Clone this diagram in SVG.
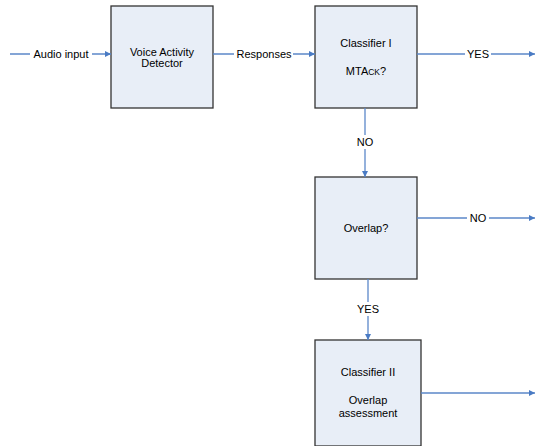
<svg xmlns="http://www.w3.org/2000/svg" width="535" height="446" viewBox="0 0 535 446">
<style>
.box{fill:#E8EEF7;stroke:#333333;stroke-width:1.3}
.t{font-family:"Liberation Sans",Arial,sans-serif;font-size:11px;fill:#000;text-anchor:middle}
.c{fill:none;stroke:#5B87C9;stroke-width:1.3}
.lb{fill:#FFFFFF}
</style>
<defs>
<marker id="ah" viewBox="0 0 10 10" refX="10" refY="5" markerWidth="6.5" markerHeight="6" markerUnits="userSpaceOnUse" orient="auto">
<path d="M0,0 L10,5 L0,10 z" fill="#4A7BC4"/>
</marker>
</defs>
<rect width="535" height="446" fill="#FFFFFF"/>
<g id="vad">
<rect class="box" x="111" y="6" width="102" height="102"/>
<text class="t" x="162" y="56">Voice Activity</text>
<text class="t" x="162" y="67">Detector</text>
</g>
<g id="classifier1">
<rect class="box" x="315" y="6" width="102" height="102"/>
<text class="t" x="366" y="47">Classifier I</text>
<text class="t" x="366" y="75">MTA<tspan font-size="8.5">CK</tspan>?</text>
</g>
<g id="overlap">
<rect class="box" x="315" y="177" width="102" height="102"/>
<text class="t" x="366" y="232">Overlap?</text>
</g>
<g id="classifier2">
<rect class="box" x="315" y="340" width="106" height="106"/>
<text class="t" x="368" y="376">Classifier II</text>
<text class="t" x="368" y="404">Overlap</text>
<text class="t" x="368" y="417">assessment</text>
</g>
<g id="connectors">
<path class="c" d="M10,54 H111" marker-end="url(#ah)"/>
<rect class="lb" x="30" y="47" width="62" height="14"/>
<text class="t" x="61" y="58">Audio input</text>
<path class="c" d="M213,54 H315" marker-end="url(#ah)"/>
<rect class="lb" x="234" y="47" width="59" height="14"/>
<text class="t" x="264" y="58">Responses</text>
<path class="c" d="M417,54 H535" marker-end="url(#ah)"/>
<rect class="lb" x="465" y="47" width="26" height="14"/>
<text class="t" x="478" y="58">YES</text>
<path class="c" d="M365,108 V177" marker-end="url(#ah)"/>
<rect class="lb" x="354" y="135" width="22" height="14"/>
<text class="t" x="365" y="146">NO</text>
<path class="c" d="M417,218 H535" marker-end="url(#ah)"/>
<rect class="lb" x="467" y="211" width="22" height="14"/>
<text class="t" x="478" y="222">NO</text>
<path class="c" d="M368,279 V340" marker-end="url(#ah)"/>
<rect class="lb" x="355" y="302" width="26" height="14"/>
<text class="t" x="368" y="313">YES</text>
<path class="c" d="M421,393 H535" marker-end="url(#ah)"/>
</g>
</svg>
